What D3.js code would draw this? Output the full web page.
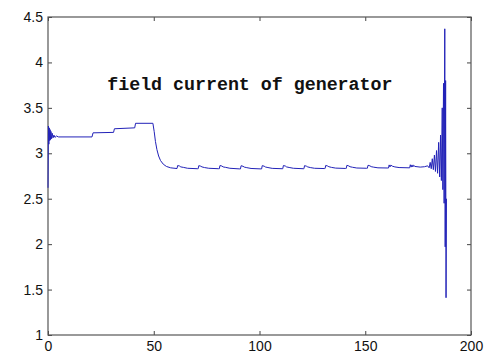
<!DOCTYPE html>
<html>
<head>
<meta charset="utf-8">
<script src="https://cdn.jsdelivr.net/npm/d3@7"></script>
<style>
  body { margin: 0; background: #fff; }
  svg { display: block; }
</style>
</head>
<body>
<svg id="chart" width="487" height="356"></svg>
<script>
// time (s) and field current
const time = [
  0, 0.2, 0.4, 0.6, 0.8, 1.0, 1.2, 1.4, 1.7, 2.0, 2.4, 2.8, 3.3, 4, 5,
  20.8, 21.3, 31, 31.4, 41, 41.4, 49.6, 50.2, 50.8, 51.5, 52.3, 53.2, 54.5, 56, 58,
  61, 61.3, 62.2, 62.8, 64, 66, 70.7,
  71, 71.3, 72.2, 72.8, 74, 76, 80.7,
  81, 81.3, 82.2, 82.8, 84, 86, 90.7,
  91, 91.3, 92.2, 92.8, 94, 96, 100.7,
  101, 101.3, 102.2, 102.8, 104, 106, 110.7,
  111, 111.3, 112.2, 112.8, 114, 116, 120.7,
  121, 121.3, 122.2, 122.8, 124, 126, 130.7,
  131, 131.3, 132.2, 132.8, 134, 136, 140.7,
  141, 141.3, 142.2, 142.8, 144, 146, 150.7,
  151, 151.3, 152.2, 152.8, 154, 156, 160.7,
  161, 161.3, 161.7, 162.1, 162.8, 164, 166, 170.7,
  171, 171.3, 171.7, 172.1, 172.5, 172.9, 173.5, 176, 178, 179.5,
  180.2, 180.7, 181.2, 181.7, 182.2, 182.7, 183.2, 183.7, 184.2, 184.7, 185.2, 185.6, 186.0,
  186.4, 186.7, 187.0, 187.3, 187.6, 187.8, 188.0, 188.2, 188.4
];
const current = [
  2.62, 3.3, 3.1, 3.28, 3.14, 3.26, 3.15, 3.24, 3.16, 3.22, 3.17, 3.2, 3.175, 3.19, 3.18,
  3.18, 3.225, 3.23, 3.27, 3.28, 3.33, 3.33, 3.24, 3.13, 3.04, 2.97, 2.92, 2.88, 2.855, 2.84,
  2.832, 2.865, 2.86, 2.85, 2.845, 2.835, 2.83,
  2.83, 2.864, 2.858, 2.85, 2.843, 2.835, 2.83,
  2.83, 2.865, 2.86, 2.85, 2.845, 2.835, 2.828,
  2.828, 2.863, 2.857, 2.848, 2.842, 2.833, 2.828,
  2.828, 2.864, 2.858, 2.849, 2.843, 2.834, 2.83,
  2.83, 2.865, 2.86, 2.85, 2.844, 2.835, 2.83,
  2.83, 2.864, 2.858, 2.85, 2.843, 2.835, 2.832,
  2.832, 2.866, 2.86, 2.852, 2.845, 2.837, 2.833,
  2.833, 2.867, 2.861, 2.852, 2.846, 2.838, 2.835,
  2.835, 2.868, 2.862, 2.853, 2.847, 2.84, 2.838,
  2.838, 2.872, 2.85, 2.87, 2.858, 2.85, 2.843, 2.84,
  2.84, 2.874, 2.848, 2.872, 2.85, 2.868, 2.855, 2.848, 2.852, 2.862,
  2.84, 2.9, 2.83, 2.94, 2.82, 2.98, 2.8, 3.03, 2.78, 3.12, 2.74, 3.2, 2.7,
  3.5, 2.6, 3.77, 2.45, 4.37, 1.97, 3.8, 1.41, 2.5
];
const xTicks = [0, 50, 100, 150, 200];
const yTicks = [1, 1.5, 2, 2.5, 3, 3.5, 4, 4.5];
const title = "field current of generator";

const svg = d3.select("#chart"),
      width = +svg.attr("width"),
      height = +svg.attr("height");
const margin = {top: 17, right: 16, bottom: 21, left: 48};
const w = width - margin.left - margin.right,
      h = height - margin.top - margin.bottom;

const x = d3.scaleLinear().domain([0, 200]).range([0, w]);
const y = d3.scaleLinear().domain([1, 4.5]).range([h, 0]);

const g = svg.append("g")
  .attr("transform", `translate(${margin.left},${margin.top})`);

const fmt = d => d.toString();
const axisStyle = sel => {
  sel.select(".domain").remove();
  sel.selectAll("line").attr("stroke", "#444");
  sel.selectAll("text")
    .attr("fill", "#111")
    .style("font-family", "'Liberation Sans', Arial, sans-serif")
    .style("font-size", "14px");
};

g.append("g")
  .attr("transform", `translate(0,${h})`)
  .call(d3.axisBottom(x).tickValues(xTicks).tickFormat(fmt).tickSize(-4).tickPadding(6))
  .call(axisStyle);
g.append("g")
  .call(d3.axisTop(x).tickValues(xTicks).tickFormat("").tickSize(-4))
  .call(axisStyle);
g.append("g")
  .call(d3.axisLeft(y).tickValues(yTicks).tickFormat(fmt).tickSize(-4).tickPadding(5))
  .call(axisStyle);
g.append("g")
  .attr("transform", `translate(${w},0)`)
  .call(d3.axisRight(y).tickValues(yTicks).tickFormat("").tickSize(-4))
  .call(axisStyle);

g.append("rect")
  .attr("width", w)
  .attr("height", h)
  .attr("fill", "none")
  .attr("stroke", "#555")
  .attr("stroke-width", 1.2);

const pts = time.map((t, i) => [t, current[i]]);
const line = d3.line().x(d => x(d[0])).y(d => y(d[1]));

g.append("path")
  .datum(pts)
  .attr("d", line)
  .attr("fill", "none")
  .attr("stroke", "#2222b8")
  .attr("stroke-width", 1)
  .attr("stroke-linejoin", "round");

g.append("text")
  .attr("x", x(28))
  .attr("y", y(3.7))
  .style("font-family", "'Liberation Mono', 'Courier New', monospace")
  .style("font-weight", "bold")
  .style("font-size", "18.3px")
  .attr("fill", "#111")
  .text(title);
</script>
</body>
</html>
